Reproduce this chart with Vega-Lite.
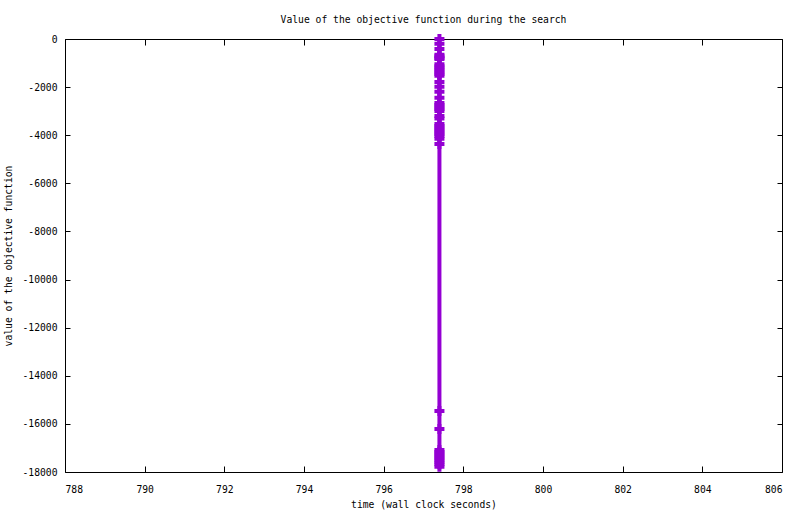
{
  "$schema": "https://vega.github.io/schema/vega-lite/v6.json",
  "width": 717,
  "height": 433,
  "autosize": "none",
  "padding": {"left": 65, "top": 39, "right": 18, "bottom": 42},
  "background": "white",
  "config": {
    "font": "DejaVu Sans Mono",
    "view": {"stroke": "black", "strokeWidth": 1},
    "axis": {
      "domain": false,
      "grid": false,
      "tickColor": "black",
      "tickWidth": 1,
      "tickSize": -6,
      "labelFont": "DejaVu Sans Mono",
      "labelFontSize": 9.7,
      "labelColor": "black",
      "titleFont": "DejaVu Sans Mono",
      "titleFontSize": 9.7,
      "titleFontWeight": "normal",
      "titleColor": "black"
    }
  },
  "title": {
    "text": "Value of the objective function during the search",
    "font": "DejaVu Sans Mono",
    "fontSize": 9.7,
    "fontWeight": "normal",
    "color": "black",
    "offset": 6
  },
  "data": {
    "values": [
      {"t": 797.4, "v": 0}, {"t": 797.4, "v": -200}, {"t": 797.4, "v": -415},
      {"t": 797.4, "v": -653}, {"t": 797.4, "v": -720}, {"t": 797.4, "v": -790}, {"t": 797.4, "v": -832},
      {"t": 797.4, "v": -1052}, {"t": 797.4, "v": -1130}, {"t": 797.4, "v": -1210}, {"t": 797.4, "v": -1290},
      {"t": 797.4, "v": -1370}, {"t": 797.4, "v": -1450}, {"t": 797.4, "v": -1526},
      {"t": 797.4, "v": -1790}, {"t": 797.4, "v": -1990}, {"t": 797.4, "v": -2190}, {"t": 797.4, "v": -2440},
      {"t": 797.4, "v": -2661}, {"t": 797.4, "v": -2740}, {"t": 797.4, "v": -2830}, {"t": 797.4, "v": -2910},
      {"t": 797.4, "v": -2993}, {"t": 797.4, "v": -3200}, {"t": 797.4, "v": -3310},
      {"t": 797.4, "v": -3533}, {"t": 797.4, "v": -3620}, {"t": 797.4, "v": -3700}, {"t": 797.4, "v": -3780},
      {"t": 797.4, "v": -3870}, {"t": 797.4, "v": -3950}, {"t": 797.4, "v": -4030}, {"t": 797.4, "v": -4143},
      {"t": 797.4, "v": -4365},
      {"t": 797.4, "v": -15464}, {"t": 797.4, "v": -16212},
      {"t": 797.4, "v": -17085}, {"t": 797.4, "v": -17170}, {"t": 797.4, "v": -17250}, {"t": 797.4, "v": -17340},
      {"t": 797.4, "v": -17420}, {"t": 797.4, "v": -17500}, {"t": 797.4, "v": -17590}, {"t": 797.4, "v": -17680},
      {"t": 797.4, "v": -17778}
    ]
  },
  "layer": [
    {
      "mark": {"type": "line", "color": "#9400d3", "strokeWidth": 4, "clip": false},
      "encoding": {
        "x": {
          "field": "t", "type": "quantitative",
          "scale": {"domain": [788, 806], "nice": false, "zero": false},
          "axis": {"orient": "bottom", "values": [788, 790, 792, 794, 796, 798, 800, 802, 804, 806],
                   "title": "time (wall clock seconds)", "labelPadding": 18, "titlePadding": 6,
                   "labelExpr": "'' + datum.value"}
        },
        "y": {
          "field": "v", "type": "quantitative",
          "scale": {"domain": [-18000, 0], "nice": false, "zero": false},
          "axis": {"orient": "left", "values": [0, -2000, -4000, -6000, -8000, -10000, -12000, -14000, -16000, -18000],
                   "title": "value of the objective function", "labelPadding": 13, "titlePadding": 9,
                   "labelExpr": "'' + datum.value", "tickSize": -5}
        },
        "order": {"field": "v", "type": "quantitative"}
      }
    },
    {
      "mark": {"type": "point", "shape": "cross", "filled": true, "size": 100, "color": "#9400d3", "opacity": 1, "clip": false},
      "encoding": {
        "x": {"field": "t", "type": "quantitative",
              "axis": {"orient": "top", "values": [788, 790, 792, 794, 796, 798, 800, 802, 804, 806], "labels": false, "title": null}},
        "y": {"field": "v", "type": "quantitative",
              "axis": {"orient": "right", "values": [0, -2000, -4000, -6000, -8000, -10000, -12000, -14000, -16000, -18000], "labels": false, "title": null, "tickSize": -5}}
      }
    }
  ],
  "resolve": {"axis": {"x": "independent", "y": "independent"}}
}
